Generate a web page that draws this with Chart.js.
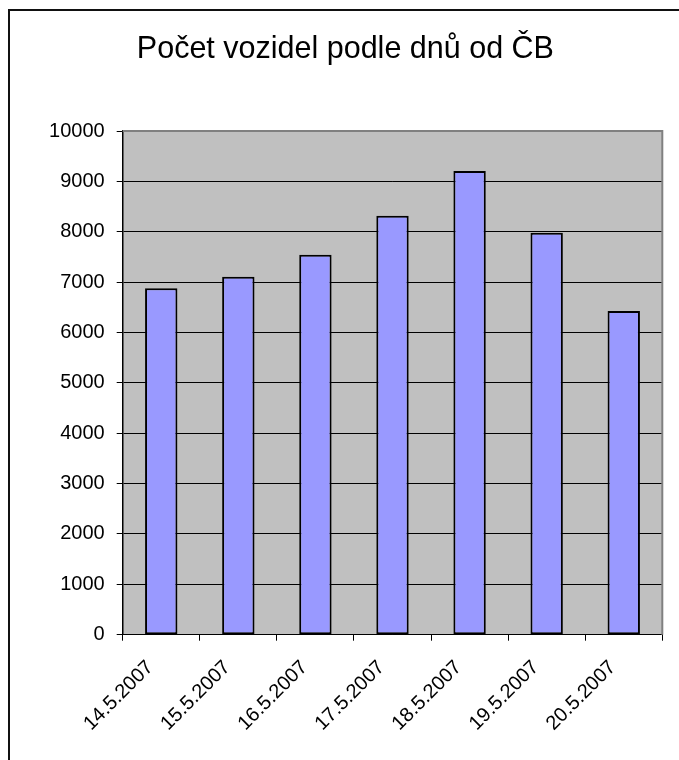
<!DOCTYPE html>
<html>
<head>
<meta charset="utf-8">
<script src="https://cdn.jsdelivr.net/npm/chart.js@4/dist/chart.umd.min.js"></script>
<style>
  html, body { margin: 0; padding: 0; background: #fff; overflow: hidden; }
  #wrap { position: absolute; left: 0; top: 0; width: 679px; height: 760px; }
</style>
</head>
<body>
<div id="wrap"><canvas id="c" width="679" height="760"></canvas></div>
<script>
const titleText = "Počet vozidel podle dnů od ČB";
const categories = ["14.5.2007", "15.5.2007", "16.5.2007", "17.5.2007", "18.5.2007", "19.5.2007", "20.5.2007"];
const vehicleCounts = [6880, 7110, 7545, 8320, 9210, 7980, 6430];
const yMin = 0;
const yMax = 10000;
const yStep = 1000;

const FONT = '"Liberation Sans", Arial, sans-serif';

const framePlugin = {
  id: 'frame',
  beforeDraw(chart) {
    const ctx = chart.ctx;
    const a = chart.chartArea;
    ctx.save();
    ctx.fillStyle = '#fff';
    ctx.fillRect(0, 0, chart.width, chart.height);
    ctx.strokeStyle = '#111';
    ctx.lineWidth = 2;
    ctx.strokeRect(9, 10, 800, 900);
    ctx.fillStyle = '#c0c0c0';
    ctx.fillRect(a.left, a.top, a.right - a.left, a.bottom - a.top);
    ctx.restore();
  },
  afterDraw(chart) {
    const ctx = chart.ctx;
    const a = chart.chartArea;
    ctx.save();
    ctx.strokeStyle = '#808080';
    ctx.lineWidth = 2;
    ctx.beginPath();
    ctx.moveTo(a.left, a.top);
    ctx.lineTo(a.right, a.top);
    ctx.lineTo(a.right, a.bottom);
    ctx.stroke();
    ctx.restore();
  }
};

new Chart(document.getElementById('c'), {
  type: 'bar',
  data: {
    labels: categories,
    datasets: [{
      data: vehicleCounts,
      backgroundColor: '#9999ff',
      borderColor: '#000',
      borderWidth: 2,
      borderSkipped: false,
      barPercentage: 0.42,
      categoryPercentage: 1.0
    }]
  },
  options: {
    responsive: false,
    animation: false,
    devicePixelRatio: 1,
    layout: { padding: { left: 28.5, right: 16.7, top: 10, bottom: 0 } },
    plugins: {
      legend: { display: false },
      tooltip: { enabled: false },
      title: {
        display: true,
        text: titleText,
        color: '#000',
        font: { family: FONT, size: 30.5, weight: 'normal', lineHeight: 1.2 },
        padding: { top: 21.5, bottom: 63 }
      }
    },
    scales: {
      x: {
        offset: true,
        grid: { display: true, drawOnChartArea: false, drawTicks: true, tickLength: 6, color: '#000', offset: true },
        border: { display: true, color: '#000', width: 1 },
        ticks: {
          color: '#000',
          font: { family: FONT, size: 20 },
          minRotation: 45,
          maxRotation: 45,
          autoSkip: false,
          padding: 15,
          labelOffset: -11
        },
        afterFit(scale) { scale.height = 125.3; }
      },
      y: {
        min: yMin,
        max: yMax,
        grid: { color: '#000', lineWidth: 1, drawTicks: true, tickLength: 6 },
        border: { display: true, color: '#000', width: 1.5 },
        ticks: {
          stepSize: yStep,
          color: '#000',
          font: { family: FONT, size: 20 },
          padding: 12,
          callback: (v) => String(v)
        },
        afterFit(scale) { scale.width = 94.2; }
      }
    }
  },
  plugins: [framePlugin]
});
</script>
</body>
</html>
